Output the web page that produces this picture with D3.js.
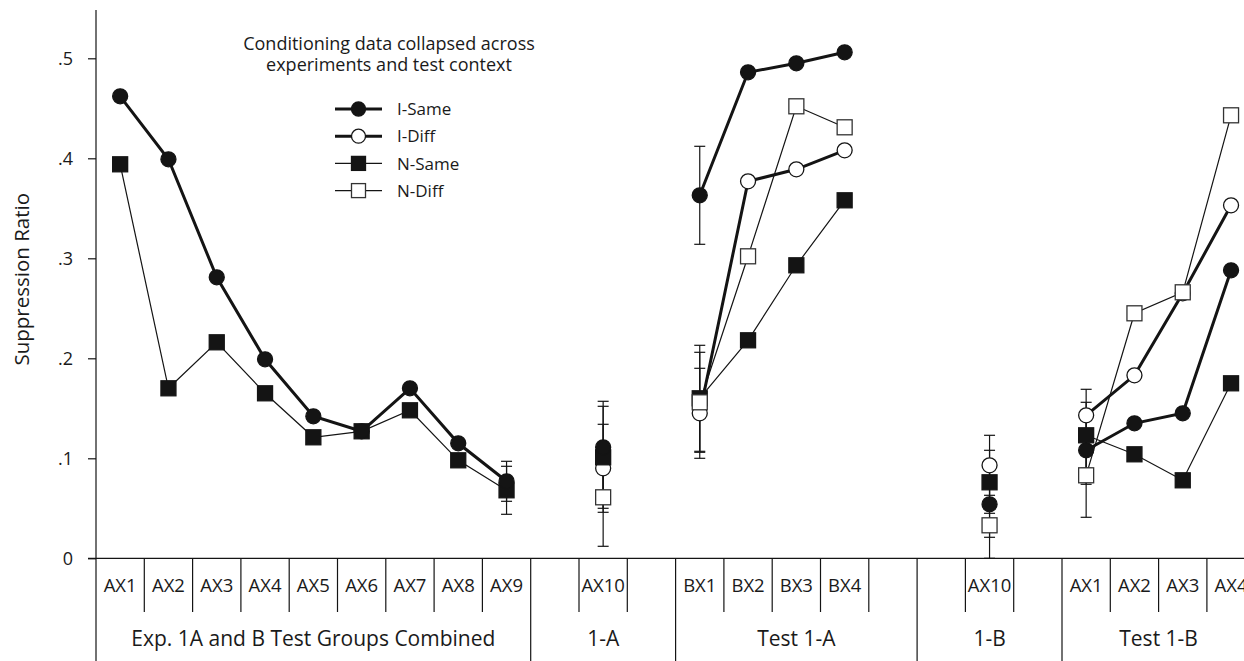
<!DOCTYPE html>
<html>
<head>
<meta charset="utf-8">
<script src="https://cdn.jsdelivr.net/npm/d3@7"></script>
<style>
  body { margin: 0; background: #fff; }
  text { font-family: "Open Sans", sans-serif; fill: #1a1a1a; }
</style>
</head>
<body>
<svg id="chart" width="1244" height="661"></svg>
<script>
// slot labels along the x axis ("" = empty slot)
const slotLabels = ["AX1","AX2","AX3","AX4","AX5","AX6","AX7","AX8","AX9",
  "","AX10","",
  "BX1","BX2","BX3","BX4","",
  "","AX10","",
  "AX1","AX2","AX3","AX4"];
const groupNames = ["Exp. 1A and B Test Groups Combined","1-A","Test 1-A","1-B","Test 1-B"];
const groupSizes = [9, 3, 5, 3, 4];

const yTicks = [0, .1, .2, .3, .4, .5];
const seriesNames = ["I-Same","I-Diff","N-Same","N-Diff"];

// values per slot (null = no point)
const iSame = [.462,.399,.281,.199,.142,.127,.170,.115,.077, null,.111,null, .363,.486,.495,.506,null, null,.054,null, .108,.135,.145,.288];
const iDiff = [null,null,null,null,null,null,null,null,null, null,.090,null, .145,.377,.389,.408,null, null,.093,null, .143,.183,.265,.353];
const nSame = [.394,.170,.216,.165,.121,.127,.148,.098,.068, null,.101,null, .160,.218,.293,.358,null, null,.076,null, .123,.104,.078,.175];
const nDiff = [null,null,null,null,null,null,null,null,null, null,.061,null, .156,.302,.452,.431,null, null,.033,null, .083,.245,.266,.443];

// error bars (+/-) per slot
const iSameErr = [null,null,null,null,null,null,null,null,.020, null,.046,null, .049,null,null,null,null, null,.054,null, .034,null,null,null];
const iDiffErr = [null,null,null,null,null,null,null,null,null, null,.044,null, .045,null,null,null,null, null,.030,null, .026,null,null,null];
const nSameErr = [null,null,null,null,null,null,null,null,.024, null,.051,null, .053,null,null,null,null, null,.020,null, .033,null,null,null];
const nDiffErr = [null,null,null,null,null,null,null,null,null, null,.049,null, .050,null,null,null,null, null,.012,null, .042,null,null,null];

const svg = d3.select("#chart");
const ink = "#141414";

const x = d3.scaleBand()
  .domain(d3.range(slotLabels.length))
  .range([96, 96 + slotLabels.length * 48.3]);

const y = d3.scaleLinear()
  .domain([0, .5])
  .range([558.3, 58.3]);

const series = [
  { name: "I-Diff", vals: iDiff, err: iDiffErr, shape: "circle", fill: "#fff", width: 3 },
  { name: "N-Same", vals: nSame, err: nSameErr, shape: "square", fill: ink, width: 1.2 },
  { name: "I-Same", vals: iSame, err: iSameErr, shape: "circle", fill: ink, width: 3 },
  { name: "N-Diff", vals: nDiff, err: nDiffErr, shape: "square", fill: "#fff", width: 1.2 }
];

// Y axis
const yAxis = svg.append("g")
  .attr("transform", "translate(96,0)")
  .call(d3.axisLeft(y).tickValues(yTicks).tickSize(8).tickPadding(15)
    .tickFormat(d => d === 0 ? "0" : d3.format(".1f")(d).replace(/^0/, "")));
yAxis.select(".domain").remove();
yAxis.selectAll(".tick line").attr("stroke", ink).attr("stroke-width", 1.2);
yAxis.selectAll(".tick text").attr("font-size", 18).style("fill", "#1a1a1a");

svg.append("line")
  .attr("x1", 96).attr("x2", 96).attr("y1", 10).attr("y2", 661)
  .attr("stroke", ink).attr("stroke-width", 1.2);

// X axis line
svg.append("line")
  .attr("x1", 88).attr("x2", 1244).attr("y1", y(0)).attr("y2", y(0))
  .attr("stroke", ink).attr("stroke-width", 1.2);

svg.append("text")
  .attr("transform", "translate(29,193) rotate(-90)")
  .attr("text-anchor", "end")
  .attr("font-size", 20.5)
  .text("Suppression Ratio");

// slot dividers and labels
const groupStarts = groupSizes.map((s, i) => d3.sum(groupSizes.slice(0, i)));
for (let b = 1; b <= slotLabels.length; b++) {
  if (groupStarts.includes(b)) continue;
  const hasLabel = (slotLabels[b - 1] || "") !== "" || (slotLabels[b] || "") !== "";
  if (!hasLabel) continue;
  const bx = x.range()[0] + b * x.bandwidth();
  svg.append("line")
    .attr("x1", bx).attr("x2", bx).attr("y1", y(0)).attr("y2", 612)
    .attr("stroke", ink).attr("stroke-width", 1.2);
}
groupStarts.forEach((s, i) => {
  if (i === 0) return;
  const bx = x(s);
  svg.append("line")
    .attr("x1", bx).attr("x2", bx).attr("y1", y(0)).attr("y2", 661)
    .attr("stroke", ink).attr("stroke-width", 1.2);
});

svg.append("g").selectAll("text")
  .data(slotLabels.map((l, i) => ({ l, i })).filter(d => d.l !== ""))
  .join("text")
  .attr("x", d => x(d.i) + x.bandwidth() / 2)
  .attr("y", 592)
  .attr("text-anchor", "middle")
  .attr("font-size", 18.5)
  .text(d => d.l);

svg.append("g").selectAll("text")
  .data(groupNames)
  .join("text")
  .attr("x", (d, i) => x(groupStarts[i]) + groupSizes[i] * x.bandwidth() / 2)
  .attr("y", 646)
  .attr("text-anchor", "middle")
  .attr("font-size", 21)
  .text(d => d);

// lines
const line = d3.line()
  .defined(d => d.v != null)
  .x(d => x(d.i) + x.bandwidth() / 2)
  .y(d => y(d.v));

series.forEach(s => {
  svg.append("path")
    .datum(s.vals.map((v, i) => ({ v, i })))
    .attr("fill", "none")
    .attr("stroke", ink)
    .attr("stroke-width", s.width)
    .attr("d", line);
});

// error bars
series.forEach(s => {
  const pts = s.vals.map((v, i) => ({ v, i, e: s.err[i] })).filter(d => d.v != null && d.e != null);
  const g = svg.append("g").attr("stroke", ink).attr("stroke-width", 1.2);
  pts.forEach(d => {
    const cx = x(d.i) + x.bandwidth() / 2;
    g.append("line").attr("x1", cx).attr("x2", cx).attr("y1", y(d.v - d.e)).attr("y2", y(d.v + d.e));
    [d.v - d.e, d.v + d.e].forEach(t => {
      g.append("line").attr("x1", cx - 5.5).attr("x2", cx + 5.5).attr("y1", y(t)).attr("y2", y(t));
    });
  });
});

// markers
function marker(g, shape, fill, cx, cy, size) {
  if (shape === "circle") {
    g.append("circle").attr("cx", cx).attr("cy", cy).attr("r", size / 2)
      .attr("fill", fill).attr("stroke", ink).attr("stroke-width", 1.3);
  } else {
    g.append("rect").attr("x", cx - size / 2).attr("y", cy - size / 2)
      .attr("width", size).attr("height", size)
      .attr("fill", fill).attr("stroke", fill === "#fff" ? "#333" : ink).attr("stroke-width", 1.3);
  }
}

series.forEach(s => {
  const g = svg.append("g");
  s.vals.forEach((v, i) => {
    if (v == null) return;
    marker(g, s.shape, s.fill, x(i) + x.bandwidth() / 2, y(v), 15);
  });
});

// title
svg.append("text").attr("x", 389).attr("y", 50).attr("text-anchor", "middle")
  .attr("font-size", 18).text("Conditioning data collapsed across");
svg.append("text").attr("x", 389).attr("y", 71).attr("text-anchor", "middle")
  .attr("font-size", 18).text("experiments and test context");

// legend
const legendOrder = ["I-Same","I-Diff","N-Same","N-Diff"];
legendOrder.forEach((name, k) => {
  const s = series.find(d => d.name === name);
  const ly = 109 + k * 27.2;
  const g = svg.append("g");
  g.append("line").attr("x1", 335).attr("x2", 382).attr("y1", ly).attr("y2", ly)
    .attr("stroke", ink).attr("stroke-width", s.width);
  marker(g, s.shape, s.fill, 358.5, ly, 14);
  g.append("text").attr("x", 397).attr("y", ly).attr("dy", "0.36em")
    .attr("font-size", 17).text(name);
});
</script>
</body>
</html>
